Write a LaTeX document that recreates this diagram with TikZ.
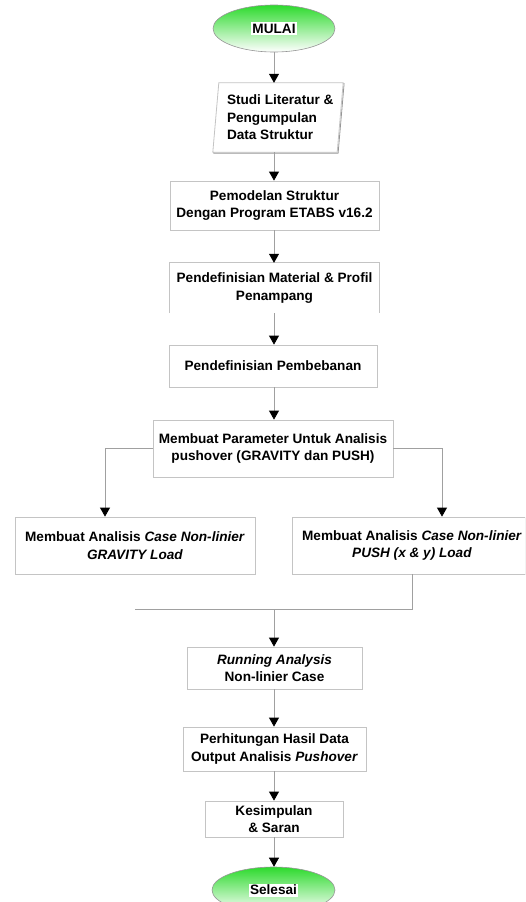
\documentclass[tikz,border=0pt]{standalone}
\usepackage{fontspec}
\setmainfont{Liberation Sans}
\usetikzlibrary{arrows.meta,shapes.geometric,shadows,calc}
\definecolor{bordergray}{RGB}{196,196,196}
\definecolor{shadowgray}{RGB}{150,150,150}
\definecolor{linegray}{RGB}{160,160,160}
\definecolor{termgreen}{RGB}{45,218,45}
\definecolor{termmid}{RGB}{150,236,150}
\begin{document}
\begin{tikzpicture}[x=1pt,y=-1pt,
  font=\fontsize{13.6}{17.5}\selectfont\bfseries,
  boxline/.style={draw=bordergray, line width=0.8pt},
  box/.style={rectangle, draw=bordergray, line width=0.8pt, fill=white, align=center, inner sep=0pt,
    drop shadow={shadow xshift=0.9pt, shadow yshift=-0.9pt, fill=shadowgray, opacity=1}},
  plain/.style={rectangle, align=center, inner sep=0pt},
  conn/.style={draw=linegray, line width=0.8pt},
  arr/.style={conn, -{Triangle[width=10pt,length=9pt,color=black]}},
  term/.style={ellipse, draw=shadowgray, line width=0.6pt, top color=termgreen, middle color=termmid, bottom color=white,
    minimum width=122pt, minimum height=47pt, inner sep=0pt},
  termlbl/.style={fill=white, inner sep=1.5pt}
]
\useasboundingbox (0,0) rectangle (525,902);
\clip (0,0) rectangle (525,902);

% terminals
\node[term] (start) at (274,28.5) {};
\node[termlbl] (startlbl) at (start.center) {MULAI};

% parallelogram
\node[plain, minimum width=124pt, minimum height=69pt] (lit) at (278,117.5) {};
\draw[draw=shadowgray, line width=0.8pt] ([xshift=3.9pt,yshift=-0.9pt]lit.north west) -- ([xshift=3.9pt,yshift=-0.9pt]lit.north east)
  -- ([xshift=-2.1pt,yshift=-0.9pt]lit.south east) -- ([xshift=-2.1pt,yshift=-0.9pt]lit.south west) -- cycle;
\draw[boxline, fill=white] ([xshift=3pt]lit.north west) -- ([xshift=3pt]lit.north east)
  -- ([xshift=-3pt]lit.south east) -- ([xshift=-3pt]lit.south west) -- cycle;
\node[plain, anchor=west, align=left] (littext) at ([xshift=11pt]lit.west)
  {Studi Literatur \&\\Pengumpulan\\Data Struktur};

% boxes
\node[box, minimum width=209pt, minimum height=49pt] (b2) at (274.5,205.5) {Pemodelan Struktur\\Dengan Program ETABS v16.2};
\node[plain, minimum width=209pt, minimum height=50pt] (b3) at (274.5,288) {Pendefinisian Material \& Profil\\Penampang};
\draw[boxline] (b3.south west) -- (b3.north west) -- (b3.north east) -- (b3.south east);
\node[box, minimum width=208pt, minimum height=42pt] (b4) at (273,366) {Pendefinisian Pembebanan};
\node[box, minimum width=240pt, minimum height=57pt] (b5) at (273,448.5) {Membuat Parameter Untuk Analisis\\pushover (GRAVITY dan PUSH)};
\node[box, minimum width=240pt, minimum height=57pt] (b6) at (135,545.5) {Membuat Analisis \textit{Case Non-linier}\\\textit{GRAVITY Load}};
\node[box, minimum width=240pt, minimum height=57pt] (b7) at (412,545.5) {Membuat Analisis \textit{Case Non-linier}\\\textit{PUSH (x \& y) Load}};
\node[box, minimum width=175pt, minimum height=42pt] (b8) at (274.5,668) {\textit{Running Analysis}\\Non-linier Case};
\node[box, minimum width=183pt, minimum height=44pt] (b9) at (274.5,749) {Perhitungan Hasil Data\\Output Analisis \textit{Pushover}};
\node[box, minimum width=138pt, minimum height=36pt] (b10) at (274,819) {Kesimpulan\\\& Saran};

\node[term, minimum width=123pt, minimum height=46pt] (end) at (273.5,890) {};
\node[termlbl] (endlbl) at (end.center) {Selesai};

% connectors
\draw[arr] (start.south) -- (start.south |- lit.north);
\draw[arr] (start.south |- lit.south) -- (start.south |- b2.north);
\draw[arr] (start.south |- b2.south) -- (start.south |- b3.north);
\draw[arr] (start.south |- b3.south) -- (start.south |- b4.north);
\draw[arr] (start.south |- b4.south) -- (start.south |- b5.north);
\draw[arr] (b5.west) -| ([xshift=-30pt]b6.north);
\draw[arr] (b5.east) -| ([xshift=30pt]b7.north);
\coordinate (mj) at (274,609);
\coordinate (ml) at (b6.south |- mj);
\draw[conn] (b7.south) |- (ml);
\draw[arr] (mj) -- (mj |- b8.north);
\draw[arr] (start.south |- b8.south) -- (start.south |- b9.north);
\draw[arr] (start.south |- b9.south) -- (start.south |- b10.north);
\draw[arr] (start.south |- b10.south) -- (start.south |- end.north);
\end{tikzpicture}
\end{document}
